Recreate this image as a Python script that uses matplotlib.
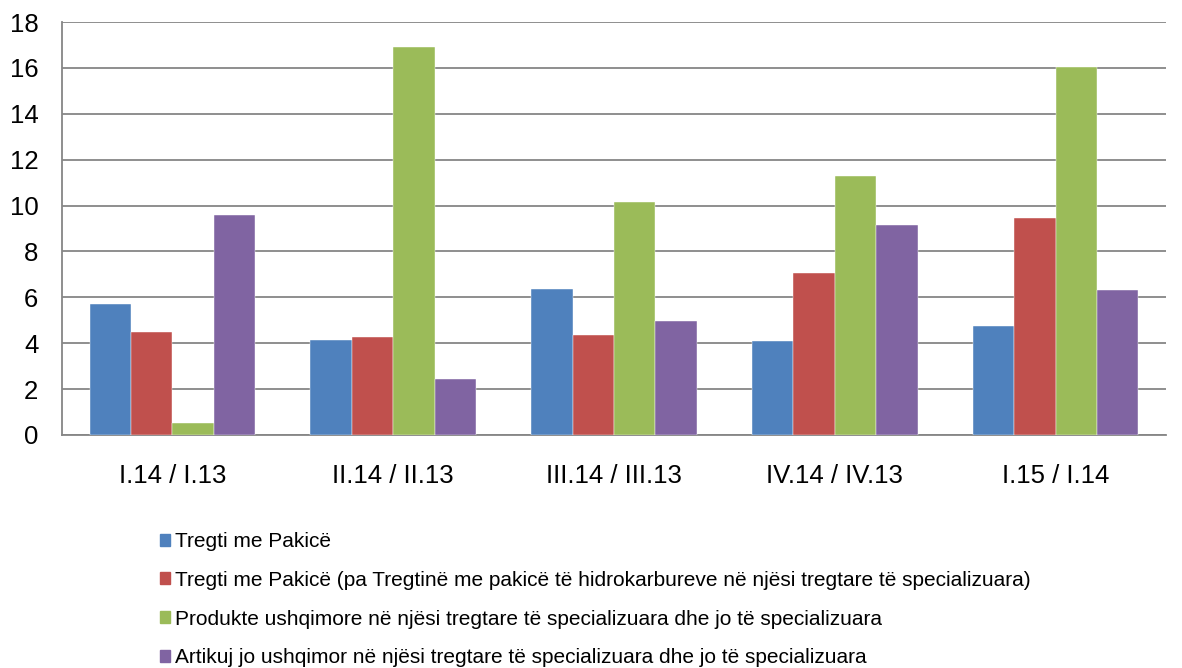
import numpy as np
import matplotlib.pyplot as plt
from matplotlib.patches import Patch

plt.rcParams['font.family'] = ['Liberation Sans', 'DejaVu Sans']

categories = ['I.14 / I.13', 'II.14 / II.13', 'III.14 / III.13', 'IV.14 / IV.13', 'I.15 / I.14']
series_names = ['Tregti me Pakicë',
                'Tregti me Pakicë (pa Tregtinë me pakicë të hidrokarbureve në njësi tregtare të specializuara)',
                'Produkte ushqimore në njësi tregtare të specializuara dhe jo të specializuara',
                'Artikuj jo ushqimor në njësi tregtare të specializuara dhe jo të specializuara']
tregti = [5.69, 4.16, 6.36, 4.10, 4.74]
tregti_pa_hidro = [4.49, 4.29, 4.36, 7.06, 9.45]
ushqimore = [0.53, 16.93, 10.14, 11.29, 16.03]
jo_ushqimor = [9.58, 2.44, 4.99, 9.17, 6.34]
colors = ['#4F81BD', '#C0504D', '#9BBB59', '#8064A2']

fig = plt.figure(figsize=(11.82, 6.68), dpi=100)
ax = fig.add_axes([62/1182, 1 - 435/668, 1104/1182, 413/668])

x = np.arange(len(categories))
w = 0.1875
all_series = [tregti, tregti_pa_hidro, ushqimore, jo_ushqimor]
for i, vals in enumerate(all_series):
    ax.bar(x + (i - 1.5) * w, vals, w, color=colors[i], zorder=3,
           edgecolor='white', linewidth=0.3)

ax.set_xlim(-0.5, len(categories) - 0.5)
ax.set_ylim(0, 18)
ax.set_yticks(range(0, 19, 2))
ax.set_xticks(x)
ax.set_xticklabels(categories, fontsize=18.5)
ax.tick_params(axis='y', labelsize=18.5, length=0, pad=17)
ax.tick_params(axis='x', length=0, pad=21)
ax.yaxis.grid(True, color='#868686', linewidth=1.3, zorder=0)
ax.set_axisbelow(True)
for s in ['top', 'right']:
    ax.spines[s].set_visible(False)
for s in ['left', 'bottom']:
    ax.spines[s].set_color('#868686')
    ax.spines[s].set_linewidth(1.3)

handles = [Patch(color=c) for c in colors]
fig.legend(handles, series_names, loc='upper left',
           bbox_to_anchor=(160/1182, 1 - 532/668), frameon=False,
           fontsize=15, labelspacing=0.95, handlelength=0.5, handleheight=0.5,
           handletextpad=0.2, borderaxespad=0, borderpad=0)

fig.savefig('out.png', dpi=100)
